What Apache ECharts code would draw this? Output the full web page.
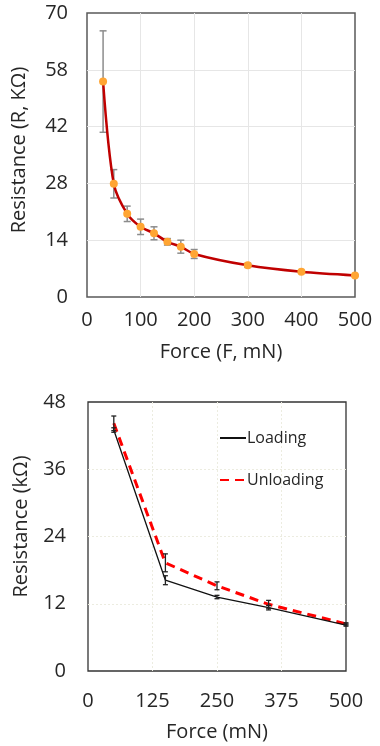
<!DOCTYPE html>
<html>
<head>
<meta charset="utf-8">
<script src="https://cdn.jsdelivr.net/npm/echarts@6/dist/echarts.min.js"></script>
<style>
  html, body { margin: 0; padding: 0; background: #fff; }
  #chart { width: 380px; height: 746px; }
</style>
</head>
<body>
<div id="chart"></div>
<script>
// top chart: resistance vs force
const forceTop = [30, 50, 75, 100, 125, 150, 175, 200, 300, 400, 500];
const resistTop = [53.1, 27.9, 20.5, 17.3, 15.7, 13.6, 12.4, 10.6, 7.8, 6.2, 5.3];
const errTop = [12.5, 3.5, 1.9, 1.9, 1.6, 0.8, 1.6, 1.1, 0.5, 0.3, 0.2];
const yLabelsTop = ["0", "14", "28", "42", "58", "70"];

// bottom chart: loading / unloading
const forceBottom = [50, 150, 250, 350, 500];
const loading = [43.0, 16.2, 13.2, 11.3, 8.2];
const unloading = [44.2, 19.3, 15.2, 11.9, 8.4];
const errLoading = [0.4, 0.8, 0.3, 0.4, 0.2];
const errUnloading = [1.3, 1.6, 0.7, 0.7, 0.2];

const font = "'Open Sans', 'Noto Sans', sans-serif";
const textColor = "#262626";

function errorBars(xs, ys, errs) {
  return xs.map((x, i) => [x, ys[i] - errs[i], ys[i] + errs[i]]);
}

function makeErrorRender(color, width, cap) {
  return function (params, api) {
    const x = api.value(0);
    const top = api.coord([x, api.value(2)]);
    const bot = api.coord([x, api.value(1)]);
    const style = { stroke: color, lineWidth: width };
    return {
      type: "group",
      children: [
        { type: "line", shape: { x1: top[0], y1: top[1], x2: bot[0], y2: bot[1] }, style: style },
        { type: "line", shape: { x1: top[0] - cap, y1: top[1], x2: top[0] + cap, y2: top[1] }, style: style },
        { type: "line", shape: { x1: bot[0] - cap, y1: bot[1], x2: bot[0] + cap, y2: bot[1] }, style: style },
      ],
    };
  };
}

const chart = echarts.init(document.getElementById("chart"));

const axisLabel = { color: textColor, fontSize: 20, fontFamily: font };
const axisName = { color: textColor, fontSize: 20, fontFamily: font };

const option = {
  animation: false,
  grid: [
    { left: 87, top: 13, width: 268, height: 284, show: true, borderColor: "#5a5a5a", borderWidth: 1.5 },
    { left: 88, top: 402, width: 258, height: 269, show: true, borderColor: "#333", borderWidth: 1.3 },
  ],
  legend: {
    orient: "vertical",
    left: 214,
    top: 425,
    itemWidth: 26,
    itemHeight: 14,
    itemGap: 26,
    textStyle: { color: textColor, fontSize: 16, fontFamily: font, padding: [0, 0, 0, -4] },
    data: ["Loading", "Unloading"],
  },
  xAxis: [
    {
      gridIndex: 0,
      type: "value",
      min: 0,
      max: 500,
      interval: 100,
      name: "Force (F, mN)",
      nameLocation: "middle",
      nameGap: 45,
      nameTextStyle: axisName,
      axisLine: { show: false },
      axisTick: { show: false },
      axisLabel: Object.assign({ margin: 13 }, axisLabel),
      splitLine: { showMinLine: false, showMaxLine: false, lineStyle: { color: "#e6e6e6", width: 1 } },
    },
    {
      gridIndex: 1,
      type: "value",
      min: 0,
      max: 500,
      interval: 125,
      name: "Force (mN)",
      nameLocation: "middle",
      nameGap: 51,
      nameTextStyle: axisName,
      axisLine: { show: false },
      axisTick: { show: false },
      axisLabel: Object.assign({ margin: 20 }, axisLabel),
      splitLine: { showMinLine: false, showMaxLine: false, lineStyle: { color: "#ecece0", width: 1, type: [2, 2] } },
    },
  ],
  yAxis: [
    {
      gridIndex: 0,
      type: "value",
      min: 0,
      max: 70,
      interval: 14,
      name: "Resistance (R, KΩ)",
      nameLocation: "middle",
      nameGap: 58,
      nameTextStyle: Object.assign({ padding: [0, 0, 0, 10] }, axisName),
      axisLine: { show: false },
      axisTick: { show: false },
      axisLabel: Object.assign({
        margin: 19,
        formatter: (v) => yLabelsTop[Math.round(v / 14)],
      }, axisLabel),
      splitLine: { showMinLine: false, showMaxLine: false, lineStyle: { color: "#e6e6e6", width: 1 } },
    },
    {
      gridIndex: 1,
      type: "value",
      min: 0,
      max: 48,
      interval: 12,
      name: "Resistance (kΩ)",
      nameLocation: "middle",
      nameGap: 57,
      nameTextStyle: Object.assign({ padding: [0, 0, 0, 20] }, axisName),
      axisLine: { show: false },
      axisTick: { show: false },
      axisLabel: Object.assign({ margin: 22 }, axisLabel),
      splitLine: { showMinLine: false, showMaxLine: false, lineStyle: { color: "#ecece0", width: 1, type: [2, 2] } },
    },
  ],
  series: [
    {
      type: "custom",
      xAxisIndex: 0,
      yAxisIndex: 0,
      renderItem: makeErrorRender("#8c8c8c", 1.5, 3.5),
      data: errorBars(forceTop, resistTop, errTop),
      z: 1,
    },
    {
      type: "line",
      xAxisIndex: 0,
      yAxisIndex: 0,
      data: forceTop.map((x, i) => [x, resistTop[i]]),
      smooth: 0.3,
      symbol: "circle",
      symbolSize: 8,
      itemStyle: { color: "#ffa533" },
      lineStyle: { color: "#c00000", width: 2.5 },
      z: 3,
    },
    {
      type: "custom",
      xAxisIndex: 1,
      yAxisIndex: 1,
      renderItem: makeErrorRender("#222", 1.3, 2.5),
      data: errorBars(forceBottom, loading, errLoading),
      z: 4,
    },
    {
      type: "custom",
      xAxisIndex: 1,
      yAxisIndex: 1,
      renderItem: makeErrorRender("#222", 1.3, 2.5),
      data: errorBars(forceBottom, unloading, errUnloading),
      z: 4,
    },
    {
      name: "Loading",
      type: "line",
      xAxisIndex: 1,
      yAxisIndex: 1,
      data: forceBottom.map((x, i) => [x, loading[i]]),
      symbol: "none",
      itemStyle: { color: "rgba(0,0,0,0)", borderColor: "rgba(0,0,0,0)" },
      lineStyle: { color: "#111", width: 1.3 },
      z: 3,
    },
    {
      name: "Unloading",
      type: "line",
      xAxisIndex: 1,
      yAxisIndex: 1,
      data: forceBottom.map((x, i) => [x, unloading[i]]),
      symbol: "none",
      itemStyle: { color: "rgba(0,0,0,0)", borderColor: "rgba(0,0,0,0)" },
      lineStyle: { color: "#ff0000", width: 3, type: [9, 6] },
      z: 2,
    },
  ],
};

chart.setOption(option);
</script>
</body>
</html>
